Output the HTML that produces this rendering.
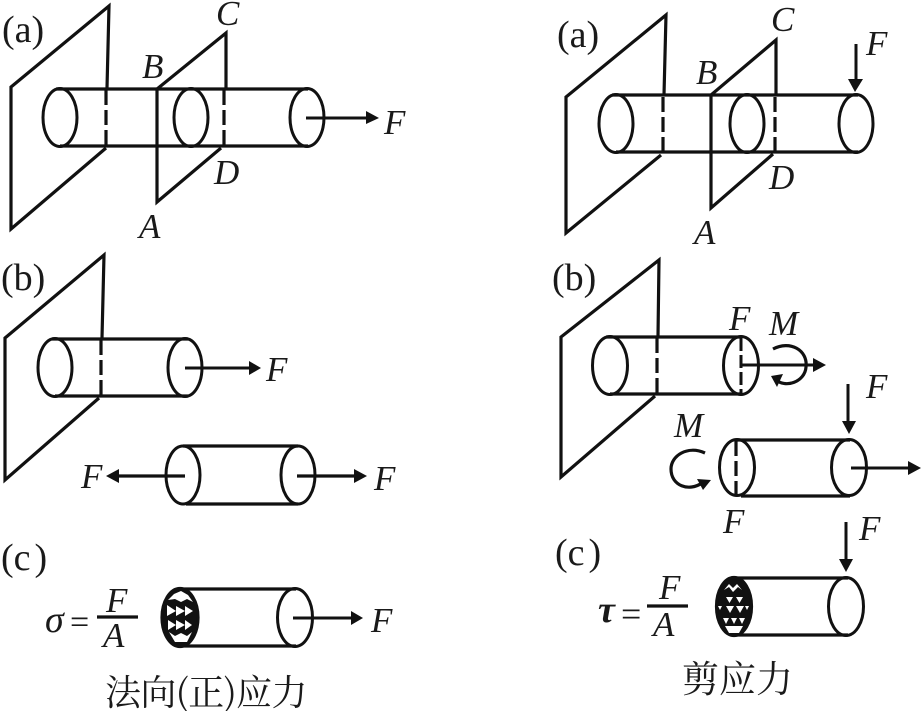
<!DOCTYPE html>
<html>
<head>
<meta charset="utf-8">
<style>
html,body{margin:0;padding:0;background:#fff;width:921px;height:711px;overflow:hidden}
svg{display:block}
.l{fill:none;stroke:#111;stroke-width:3.200}
.d{fill:none;stroke:#111;stroke-width:3.200;stroke-dasharray:15 5}
.e{fill:#fff;stroke:#111;stroke-width:3.200}
.n{fill:none;stroke:#111;stroke-width:3}
.h{fill:#111;stroke:none}
text{font-family:"Liberation Serif","Noto Serif CJK SC",serif;fill:#1a1a1a}
.t{font-size:38px}
.i{font-size:35px;font-style:italic}
.c{font-size:36px}
</style>
</head>
<body>
<svg width="921" height="711" viewBox="0 0 921 711" xmlns="http://www.w3.org/2000/svg">
<!-- LEFT a -->
<text class="t" x="2" y="42">(a)</text>
<path class="l" d="M107 88L109 6L11 87V229L106 148"/>
<path class="d" d="M106 90V146"/>
<path class="l" d="M56 89H308M60 146H308"/>
<ellipse class="n" cx="60" cy="117.500" rx="17" ry="29"/>
<ellipse class="n" cx="191" cy="117.500" rx="17" ry="29"/>
<ellipse class="n" cx="307" cy="117.500" rx="17" ry="29"/>
<path class="l" d="M226 88V33L157 89V202L221 148"/>
<path class="d" d="M224 90V146"/>
<path class="n" d="M306 118H368"/>
<path class="h" d="M379 118L366 111V124Z"/>
<text class="i" x="142" y="78">B</text>
<text class="i" x="216" y="25">C</text>
<text class="i" x="214" y="184">D</text>
<text class="i" x="139" y="238">A</text>
<text class="i" x="384" y="134">F</text>

<!-- RIGHT a -->
<text class="t" x="557" y="47">(a)</text>
<path class="l" d="M664 95L666 15L566 97V233L661 155"/>
<path class="d" d="M663 97V153"/>
<path class="l" d="M612 95H858M616 152H858"/>
<ellipse class="n" cx="616" cy="123.500" rx="17" ry="29"/>
<ellipse class="n" cx="747" cy="123.500" rx="17" ry="29"/>
<ellipse class="n" cx="856" cy="123.500" rx="17" ry="29"/>
<path class="l" d="M776 95V40L711 95V208L773 154"/>
<path class="d" d="M775 97V152"/>
<path class="n" d="M856 44V82"/>
<path class="h" d="M855 92L848 79H863Z"/>
<text class="i" x="696" y="84">B</text>
<text class="i" x="771" y="31">C</text>
<text class="i" x="769" y="189">D</text>
<text class="i" x="694" y="244">A</text>
<text class="i" x="866" y="55">F</text>

<!-- RIGHT b, LEFT b -->
<text class="t" x="1" y="290">(b)</text>
<path class="l" d="M102 338L104 255L5 338V480L99 398"/>
<path class="d" d="M101 340V396"/>
<path class="l" d="M52 339H188M55 396H188"/>
<ellipse class="n" cx="55" cy="367.500" rx="17" ry="29"/>
<ellipse class="n" cx="185" cy="367.500" rx="17" ry="29"/>
<path class="n" d="M185 368H251"/>
<path class="h" d="M261 368L249 361V375Z"/>
<text class="i" x="266" y="381">F</text>
<path class="l" d="M183 446H298M186 504H298"/>
<ellipse class="n" cx="183" cy="475" rx="17" ry="29"/>
<ellipse class="n" cx="298" cy="475" rx="17" ry="29"/>
<path class="l" d="M118 476H185M297 476H357"/>
<path class="h" d="M106 476L119 469V483Z"/>
<path class="h" d="M367 476L354 469V483Z"/>
<text class="i" x="81" y="488">F</text>
<text class="i" x="374" y="490">F</text>

<text class="t" x="552" y="290">(b)</text>
<path class="l" d="M658 336L659 260L561 337V477L655 396"/>
<path class="d" d="M657 338V394"/>
<path class="l" d="M606 337H742M610 394H742"/>
<ellipse class="n" cx="610" cy="365.500" rx="17.500" ry="29"/>
<ellipse class="n" cx="741" cy="365.500" rx="17.500" ry="29"/>
<path class="n" stroke-dasharray="13 4" d="M741 338V394"/>
<path class="n" d="M741 365H817"/>
<path class="h" d="M826 365L813 358V372Z"/>
<path class="l" d="M773 349C790 340 808 350 806 367C805 382 785 389 775 379"/>
<path class="h" d="M771 376L783 374L777 387Z"/>
<text class="i" x="729" y="330">F</text>
<text class="i" x="769" y="335">M</text>
<path class="l" d="M737 440H850M741 496H850"/>
<ellipse class="n" cx="737" cy="467.500" rx="17.500" ry="28"/>
<ellipse class="n" cx="849" cy="467.500" rx="17.500" ry="28"/>
<path class="d" stroke-dasharray="9 4" d="M736 441V495"/>
<path class="n" d="M851 468H912"/>
<path class="h" d="M921 468L908 461V475Z"/>
<path class="n" d="M848 384V423"/>
<path class="h" d="M849 434L842 421H856Z"/>
<path class="l" d="M705 453C687 445 671 456 671 469C671 486 689 492 702 483"/>
<path class="h" d="M711 480L697 479L703 490Z"/>
<text class="i" x="674" y="437">M</text>
<text class="i" x="866" y="398">F</text>
<text class="i" x="723" y="533">F</text>

<!-- LEFT c -->
<text class="t" x="1" y="570">(c<tspan dx="4">)</tspan></text>
<path class="l" d="M178 589H296M182 646H296"/>
<ellipse class="e" cx="180" cy="617.500" rx="18" ry="29" style="fill:#111"/>
<ellipse class="n" cx="295" cy="617.500" rx="17.500" ry="29"/>
<path d="M168 600L174 594L181 591L188 595L193 602L187 599L181 602L175 599Z" fill="#fff"/>
<path d="M169 632L175 636L181 633L187 636L192 632L187 642L175 642Z" fill="#fff"/>
<g fill="#fff">
<path d="M167 605L176 611L167 616Z"/><path d="M176 606L185 611L176 616Z"/><path d="M185 606L193 611L185 616Z"/>
<path d="M168 620L176 625L168 630Z"/><path d="M176 620L185 625L176 630Z"/><path d="M185 620L192 625L185 630Z"/>
</g>
<path class="n" d="M293 618H354"/>
<path class="h" d="M363 618L351 611V625Z"/>
<text class="i" x="371" y="632">F</text>
<text class="i" x="45" y="632" style="font-size:38px">σ</text>
<text class="c" x="70" y="633" style="font-size:34px">=</text>
<path class="l" d="M97 617H138"/>
<text class="i" x="106" y="612">F</text>
<text class="i" x="103" y="647">A</text>
<text x="105" y="705" style="font-size:36px;font-family:'Noto Serif CJK SC',serif;letter-spacing:-0.500px" textLength="202">法向(正)应力</text>

<!-- RIGHT c -->
<text class="t" x="555" y="565">(c<tspan dx="4">)</tspan></text>
<path class="l" d="M731 578H848M735 635H848"/>
<ellipse class="e" cx="734" cy="606.500" rx="17.500" ry="29" style="fill:#111"/>
<ellipse class="n" cx="846" cy="606.500" rx="17.500" ry="29"/>
<path d="M724 590L729 584L733 588L737 584L742 590L738 587L733 592L729 587Z" fill="#fff"/>
<path d="M725 626H743L739 633H729Z" fill="#fff"/>
<g fill="#fff">
<path d="M726 597H733L729.500 603Z"/><path d="M736 597H743L739.500 603Z"/>
<path d="M718 606H722L720 610Z"/><path d="M726 606H734L730 613Z"/><path d="M736 606H744L740 613Z"/><path d="M745 606H749L747 610Z"/>
<path d="M723 618H729L726 624Z"/><path d="M731 618H737L734 624Z"/><path d="M739 618H745L742 624Z"/>
</g>
<path class="n" d="M846 522V562"/>
<path class="h" d="M846 572L839 559H853Z"/>
<text class="i" x="859" y="540">F</text>
<text class="i" x="598" y="622" style="font-size:38px;font-weight:bold">τ</text>
<text class="c" x="621" y="626" style="font-size:36px">=</text>
<path class="l" d="M647 606H688"/>
<text class="i" x="659" y="599">F</text>
<text class="i" x="653" y="636">A</text>
<text x="682" y="692" style="font-size:37px;font-family:'Noto Serif CJK SC',serif">剪应力</text>
</svg>
</body>
</html>
